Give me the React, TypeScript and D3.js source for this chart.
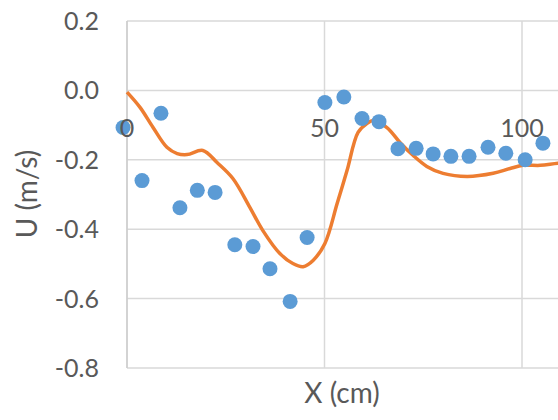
import React from 'react';
import * as d3 from 'd3';

// measured points
const measX = [-1, 3.8, 8.6, 13.4, 17.8, 22.3, 27.3, 31.9, 36.2, 41.3, 45.6, 50.1, 54.9, 59.5, 63.8, 68.6, 73.2, 77.5, 82, 86.6, 91.4, 95.9, 100.8, 105.3];
const measU = [-0.107, -0.26, -0.066, -0.338, -0.288, -0.294, -0.445, -0.45, -0.514, -0.608, -0.424, -0.035, -0.019, -0.081, -0.09, -0.168, -0.167, -0.183, -0.19, -0.19, -0.164, -0.181, -0.2, -0.152];

// simulated curve
const simX = [0, 3.3, 6.6, 10.1, 12.7, 15.2, 19.2, 22.8, 26.8, 31.1, 34.4, 38.7, 42, 44.6, 47.1, 50.1, 53.2, 55.7, 58.5, 60.8, 62.3, 65.8, 69.1, 72.4, 75.9, 80, 86.1, 92.7, 97, 100.3, 104.6, 109.1, 115];
const simU = [-0.005, -0.049, -0.107, -0.164, -0.182, -0.185, -0.173, -0.208, -0.254, -0.337, -0.404, -0.47, -0.499, -0.508, -0.49, -0.441, -0.326, -0.231, -0.121, -0.095, -0.087, -0.107, -0.15, -0.187, -0.219, -0.239, -0.248, -0.239, -0.225, -0.216, -0.216, -0.21, -0.205];

const yTicks = [0.2, 0, -0.2, -0.4, -0.6, -0.8];
const xTicks = [0, 50, 100];

const W = 558;
const H = 420;

const App = () => {
  const x = d3.scaleLinear().domain([0, 100]).range([127, 522]);
  const y = d3.scaleLinear().domain([-0.8, 0.2]).range([368, 21]);

  const line = d3.line<number>()
    .x((d, i) => x(simX[i]))
    .y(d => y(d))
    .curve(d3.curveCatmullRom);

  const grid = '#d9d9d9';
  const txt = '#595959';
  const font = 'Lato, "Open Sans", sans-serif';
  const fmt = (t: number) => d3.format('.1f')(t).replace('\u2212', '-');

  return (
    <svg width={W} height={H} style={{ position: 'absolute', left: 0, top: 0, background: '#fff' }} fontFamily={font}>
      {yTicks.map(t => (
        <line key={'gy' + t} x1={x(0)} x2={W} y1={y(t)} y2={y(t)} stroke={grid} strokeWidth={1.5} />
      ))}
      {xTicks.filter(t => t > 0).map(t => (
        <line key={'gx' + t} x1={x(t)} x2={x(t)} y1={y(0.2)} y2={y(-0.8)} stroke={grid} strokeWidth={1.5} />
      ))}
      <line x1={x(0)} x2={x(0)} y1={y(0.2)} y2={y(-0.8)} stroke="#cfcfcf" strokeWidth={1.8} />

      <path d={line(simU) || ''} fill="none" stroke="#ed7d31" strokeWidth={3.5} strokeLinejoin="round" />

      {measU.map((u, i) => (
        <circle key={'p' + i} cx={x(measX[i])} cy={y(u)} r={7.5} fill="#5b9bd5" />
      ))}

      {yTicks.map(t => (
        <text key={'ly' + t} x={99} y={y(t)} dy="0.36em" textAnchor="end" fontSize={25} fill={txt}>
          {fmt(t)}
        </text>
      ))}
      {xTicks.map(t => (
        <text key={'lx' + t} x={x(t)} y={137} textAnchor="middle" fontSize={25} fill={txt}>
          {t}
        </text>
      ))}

      <text x={342} y={403} textAnchor="middle" fontSize={28} fill={txt}>X (cm)</text>
      <text transform="translate(37,194) rotate(-90)" textAnchor="middle" fontSize={28} fill={txt}>U (m/s)</text>
    </svg>
  );
};

export default App;
